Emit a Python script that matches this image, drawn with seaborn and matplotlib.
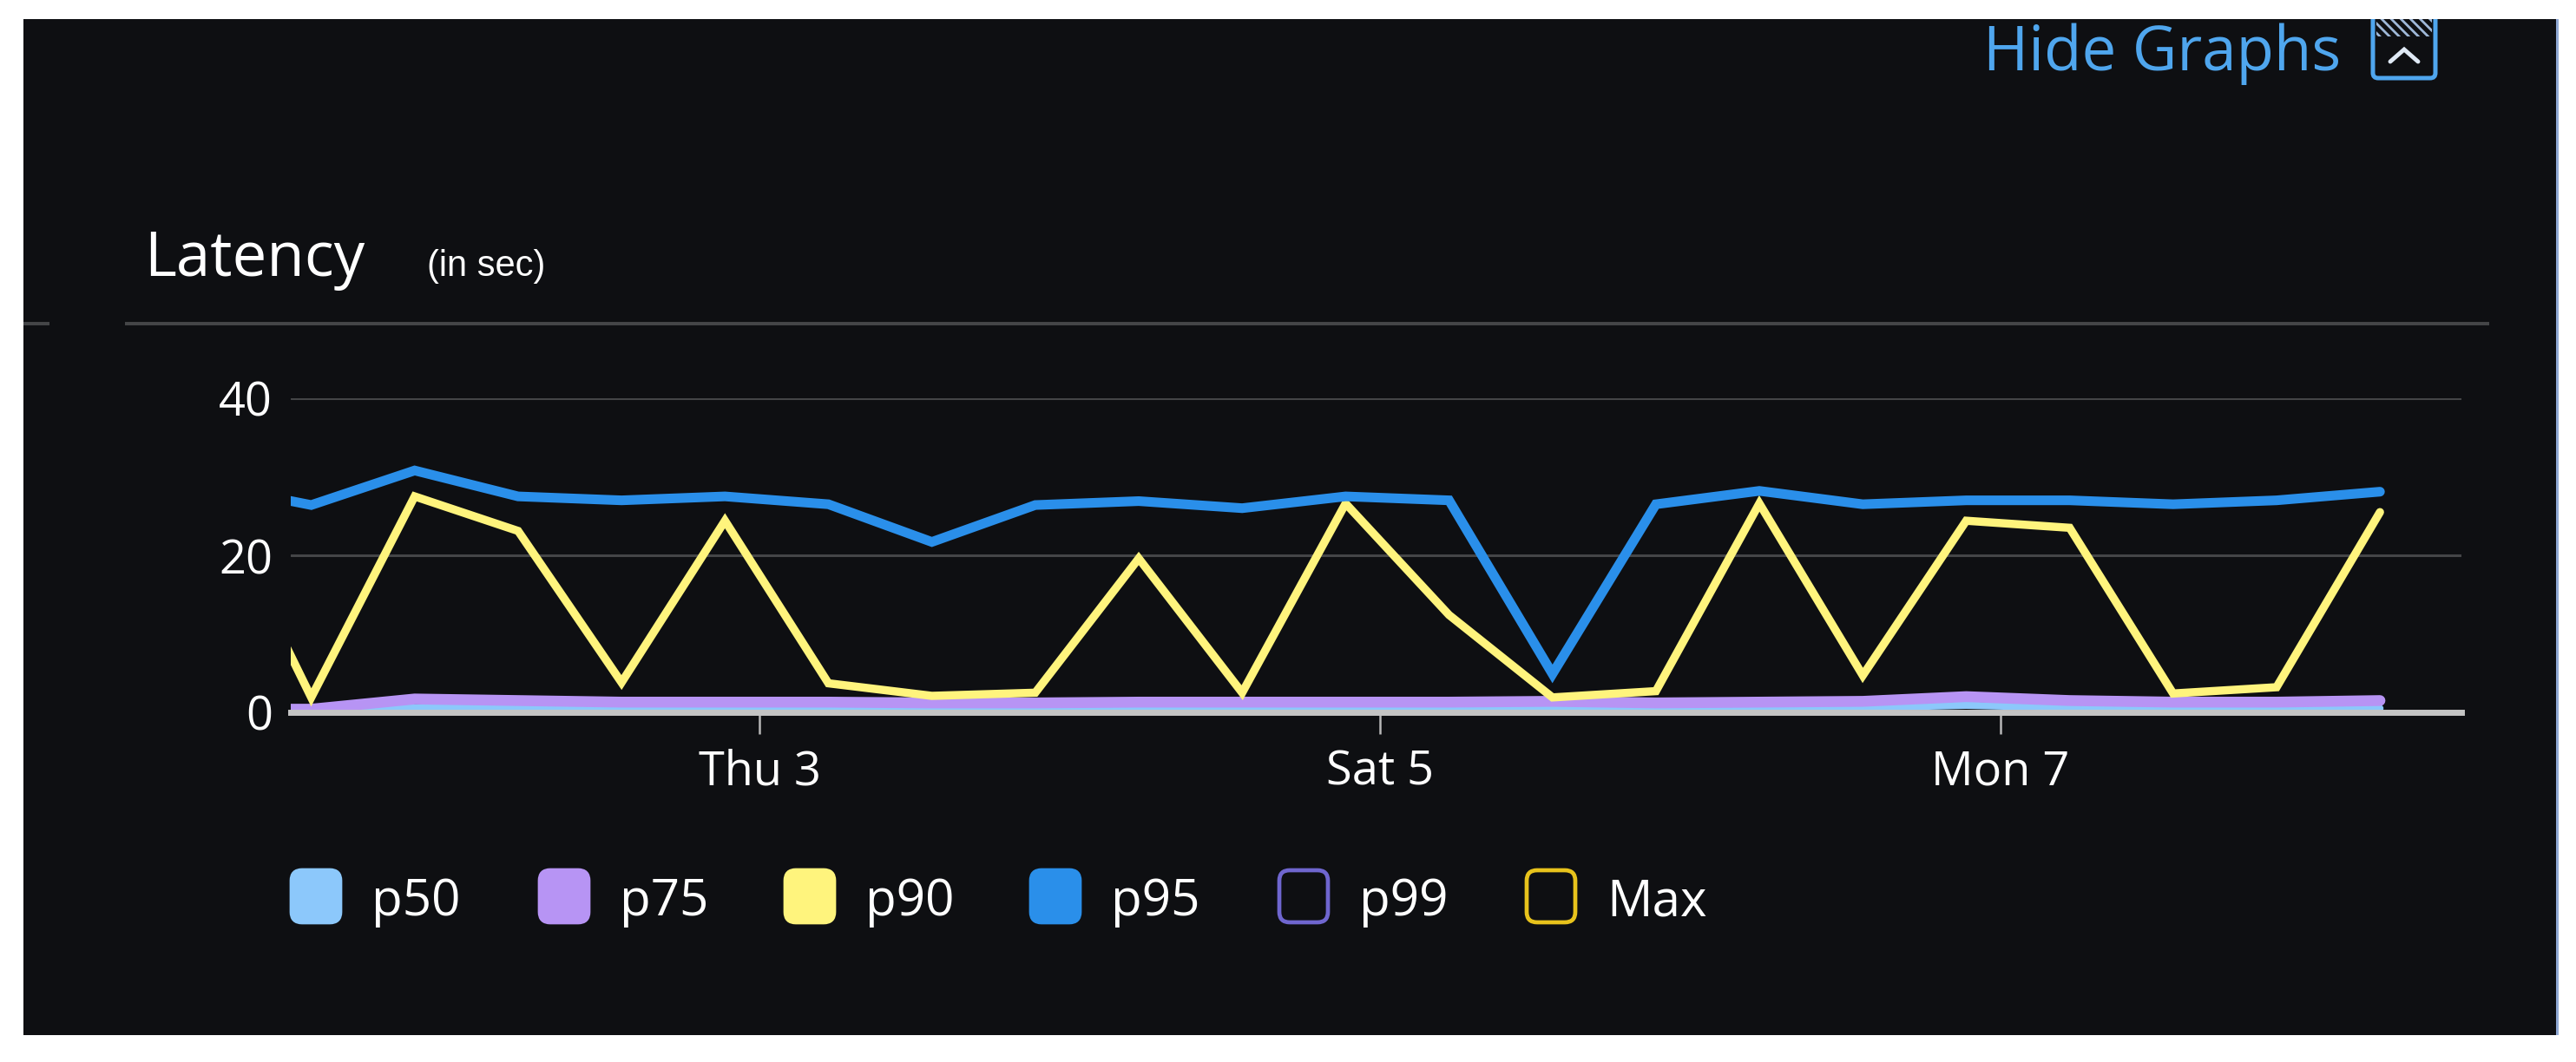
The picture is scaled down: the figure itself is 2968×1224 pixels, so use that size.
import matplotlib
matplotlib.use('Agg')
import matplotlib.pyplot as plt
import matplotlib.dates as mdates
from matplotlib.patches import FancyBboxPatch, Rectangle
import pandas as pd
import seaborn as sns

# values in seconds, one reading every 8 hours
times = pd.date_range('2022-11-01 05:20', periods=22, freq='8h')
p50 = [0.2, 0.2, 0.6, 0.5, 0.5, 0.5, 0.5, 0.4, 0.5, 0.5, 0.5,
       0.5, 0.5, 0.5, 0.3, 0.5, 0.6, 0.9, 0.6, 0.5, 0.5, 0.5]
p75 = [0.4, 0.4, 1.7, 1.5, 1.3, 1.3, 1.3, 1.2, 1.2, 1.3, 1.3,
       1.3, 1.3, 1.4, 1.2, 1.3, 1.4, 2.0, 1.5, 1.3, 1.3, 1.5]
p90 = [28.8, 1.9, 27.5, 23.1, 3.8, 24.4, 3.7, 2.1, 2.5, 19.6, 2.5,
       26.6, 12.4, 1.9, 2.7, 26.6, 4.7, 24.4, 23.5, 2.4, 3.2, 25.5]
p95 = [29.0, 26.4, 30.8, 27.5, 27.0, 27.5, 26.5, 21.7, 26.4, 26.9, 26.0,
       27.5, 27.0, 4.9, 26.5, 28.2, 26.5, 27.0, 27.0, 26.5, 27.0, 28.1]

drawn_series = ['p50', 'p75', 'p90', 'p95']
drawn_colors = ['#8cc8fb', '#b794f4', '#fff47d', '#2a8fea']
drawn_widths = [6.0, 9.0, 6.8, 8.0]
legend_labels = ['p50', 'p75', 'p90', 'p95', 'p99', 'Max']
legend_colors = ['#8cc8fb', '#b794f4', '#fff47d', '#2a8fea', '#6f66cf', '#e8c31c']
legend_filled = [True, True, True, True, False, False]
tick_dates = ['2022-11-03', '2022-11-05', '2022-11-07']
tick_labels = ['Thu 3', 'Sat 5', 'Mon 7']
y_ticks = [0, 20, 40]

W, H = 2968, 1224
BG = '#0e0f12'
BLUE = '#4fa6ee'

sns.set_theme(style='dark', rc={'axes.facecolor': 'none', 'figure.facecolor': 'white'})
plt.rcParams['font.family'] = ['Open Sans', 'DejaVu Sans']
plt.rcParams['hatch.linewidth'] = 2.0
plt.rcParams['lines.solid_joinstyle'] = 'miter'

df = pd.DataFrame({'time': times, 'p50': p50, 'p75': p75, 'p90': p90, 'p95': p95})

fig = plt.figure(figsize=(W / 100, H / 100), dpi=100)

# overlay in picture pixels for the page furniture
page = fig.add_axes([0, 0, 1, 1], zorder=0)
page.set_xlim(0, W)
page.set_ylim(H, 0)
page.axis('off')
page.add_patch(Rectangle((27, 22), 2918, 1171, fc=BG, ec='none'))
page.add_patch(Rectangle((2945, 22), 3, 1171, fc='#8fa8d4', ec='none'))
page.plot([144, 2868], [373, 373], color='#454648', lw=2.8, solid_capstyle='butt')
page.plot([27, 57], [373, 373], color='#454648', lw=2.8, solid_capstyle='butt')

page.text(166, 318, 'Latency', color='white', fontsize=51, va='baseline')
page.text(492, 318, '(in sec)', color='white', fontsize=30, va='baseline',
          family='Liberation Sans')
page.text(2285, 81, 'Hide Graphs', color=BLUE, fontsize=51, va='baseline')

# collapse icon
icon_clip = Rectangle((2700, 22), 150, 90, transform=page.transData)
icon = FancyBboxPatch((2734, 5), 72, 85, boxstyle='round,pad=0,rounding_size=6',
                      fc='none', ec=BLUE, lw=3.6)
page.add_patch(icon)
icon.set_clip_path(icon_clip)
page.add_patch(Rectangle((2738, 22), 64, 20, fc='none', ec='#9fb8d8', hatch='\\\\\\', lw=0))
page.plot([2754, 2770, 2786], [71, 57, 71], color='#dfe9f5', lw=3.5)

# legend swatches
legend_x = [334, 620, 903, 1186, 1472, 1757]
for x, label, color, filled in zip(legend_x, legend_labels, legend_colors, legend_filled):
    page.add_patch(FancyBboxPatch((x + 5, 1006), 50, 54,
                                  boxstyle='round,pad=3,rounding_size=12',
                                  fc=color if filled else BG, ec=color, lw=3.4))
    page.text(x + 94, 1055, label, color='white', fontsize=42, va='baseline')

# chart
ax = fig.add_axes([335 / W, 1 - 821 / H, (2836 - 335) / W, (821 - 459) / H], zorder=1)
for name, color, width in zip(drawn_series, drawn_colors, drawn_widths):
    sns.lineplot(data=df, x='time', y=name, color=color, linewidth=width, ax=ax)
ax.set_xlim(pd.Timestamp('2022-11-01 11:45'), pd.Timestamp('2022-11-08 11:38'))
ax.set_ylim(0, 40)
ax.set_xlabel('')
ax.set_ylabel('')
ax.set_xticks([mdates.date2num(pd.Timestamp(d)) for d in tick_dates])
ax.set_xticklabels(tick_labels)
ax.set_yticks(y_ticks)
ax.grid(axis='y', color='#444547', lw=2.2)
ax.grid(axis='x', visible=False)
ax.set_axisbelow(True)
ax.tick_params(axis='x', length=18, width=1.8, color='#b8b8b8', labelcolor='white',
               labelsize=39, pad=12, bottom=True)
ax.tick_params(axis='y', length=0, labelcolor='white', labelsize=39, pad=15)
for side in ['top', 'left', 'right']:
    ax.spines[side].set_visible(False)
ax.spines['bottom'].set_color('#c4c4c4')
ax.spines['bottom'].set_linewidth(5)
ax.spines['bottom'].set_zorder(5)

fig.savefig('out.png', dpi=100)
